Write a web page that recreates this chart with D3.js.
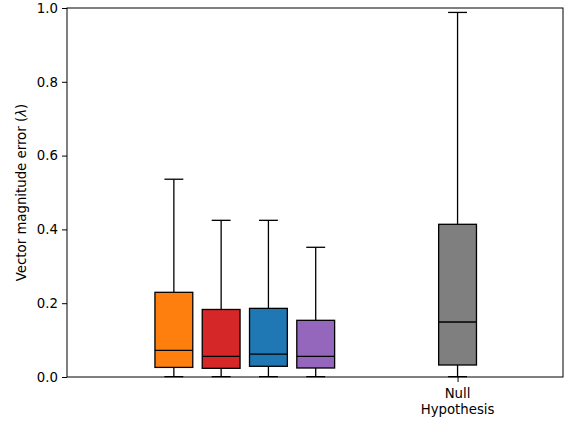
<!DOCTYPE html>
<html><head><meta charset="utf-8">
<script src="https://cdn.jsdelivr.net/npm/d3@7"></script>
<style>body{margin:0;background:#fff}svg{display:block}text{font-family:"DejaVu Sans",sans-serif}</style>
</head><body>
<svg id="c" width="570" height="421"></svg>
<script>
const positions = [1, 2, 3, 4, 7];
const colors = ["#ff7f0e", "#d62728", "#1f77b4", "#9467bd", "#7f7f7f"];
const whiskerLow = [0.001, 0.001, 0.001, 0.001, 0.001];
const q1 = [0.026, 0.0235, 0.029, 0.0244, 0.0325];
const medians = [0.072, 0.056, 0.062, 0.056, 0.149];
const q3 = [0.2295, 0.183, 0.186, 0.1536, 0.4138];
const whiskerHigh = [0.536, 0.4246, 0.4246, 0.3515, 0.988];
const xTickPositions = [7];
const xTickLabels = [["Null", "Hypothesis"]];
const yTicks = [0, 0.2, 0.4, 0.6, 0.8, 1.0];
const yLabel = "Vector magnitude error (";

const W = 570, H = 421;
const FS = 13.3;
const m = {left: 67, right: 7, top: 8, bottom: 44};
const svg = d3.select("#c");
const x = d3.scaleLinear().domain([-1.26, 9.23]).range([m.left, W - m.right]);
const y = d3.scaleLinear().domain([0, 1]).range([H - m.bottom, m.top]);
const bw = x(0.8) - x(0);
const cw = x(0.4) - x(0);

const g = svg.append("g");
positions.forEach((p, i) => {
  const cx = x(p);
  const gg = g.append("g").attr("stroke", "#000").attr("stroke-width", 1.3);
  gg.append("line").attr("x1", cx).attr("x2", cx).attr("y1", y(q3[i])).attr("y2", y(whiskerHigh[i]));
  gg.append("line").attr("x1", cx).attr("x2", cx).attr("y1", y(q1[i])).attr("y2", y(whiskerLow[i]));
  gg.append("line").attr("x1", cx - cw/2).attr("x2", cx + cw/2).attr("y1", y(whiskerHigh[i])).attr("y2", y(whiskerHigh[i]));
  gg.append("line").attr("x1", cx - cw/2).attr("x2", cx + cw/2).attr("y1", y(whiskerLow[i])).attr("y2", y(whiskerLow[i]));
  gg.append("rect").attr("x", cx - bw/2).attr("width", bw)
    .attr("y", y(q3[i])).attr("height", y(q1[i]) - y(q3[i]))
    .attr("fill", colors[i]);
  gg.append("line").attr("x1", cx - bw/2).attr("x2", cx + bw/2).attr("y1", y(medians[i])).attr("y2", y(medians[i]));
});

// frame
svg.append("rect").attr("x", m.left).attr("y", m.top)
  .attr("width", W - m.left - m.right).attr("height", H - m.top - m.bottom)
  .attr("fill", "none").attr("stroke", "#000").attr("stroke-width", 1);

// y axis
const ya = svg.append("g").attr("transform", `translate(${m.left},0)`)
  .call(d3.axisLeft(y).tickValues(yTicks).tickFormat(d3.format(".1f")).tickSize(5).tickPadding(4));
ya.select(".domain").remove();
ya.selectAll("text").attr("font-size", FS).attr("fill", "#000").attr("font-family", "DejaVu Sans");
ya.selectAll("line").attr("stroke", "#000");

// x axis
const xa = svg.append("g").attr("transform", `translate(0,${H - m.bottom})`)
  .call(d3.axisBottom(x).tickValues(xTickPositions).tickFormat("").tickSize(5));
xa.select(".domain").remove();
xa.selectAll("line").attr("stroke", "#000");
xTickPositions.forEach((p, i) => {
  const t = svg.append("text").attr("x", x(p)).attr("y", 398)
    .attr("text-anchor", "middle").attr("font-size", FS).attr("fill", "#000");
  xTickLabels[i].forEach((s, j) => t.append("tspan").attr("x", x(p)).attr("dy", j ? 15.5 : 0).text(s));
});

// y label
const yl = svg.append("text").attr("transform", `translate(26,${(m.top + H - m.bottom)/2}) rotate(-90)`)
  .attr("text-anchor", "middle").attr("font-size", FS).attr("fill", "#000");
yl.append("tspan").text(yLabel);
yl.append("tspan").attr("font-style", "italic").text("λ");
yl.append("tspan").text(")");
</script>
</body></html>
